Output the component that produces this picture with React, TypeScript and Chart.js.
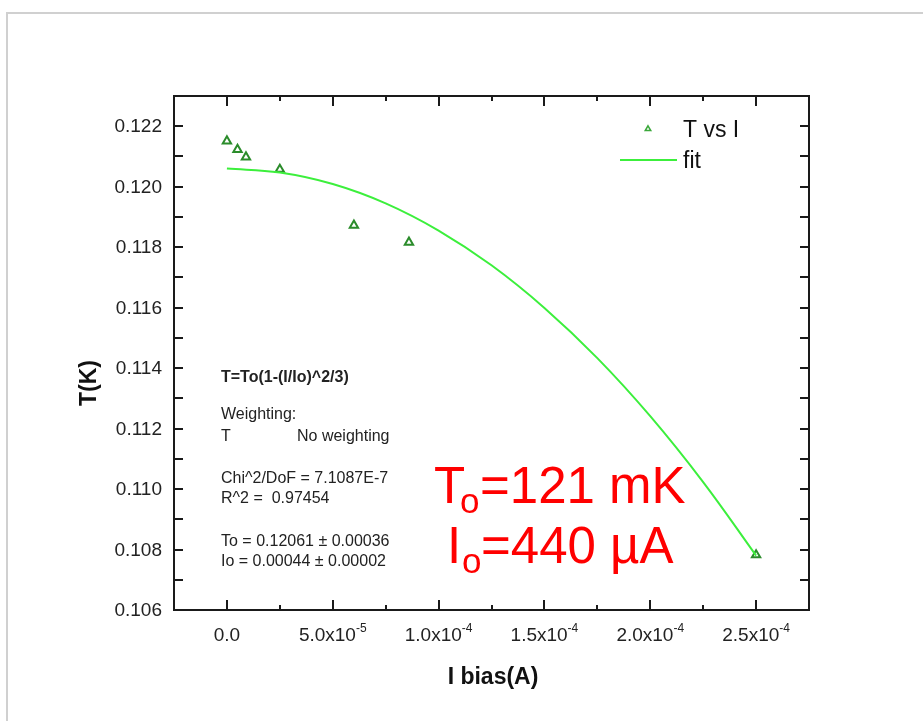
import React, { useEffect, useRef } from 'react';
import { Chart, registerables } from 'chart.js';

Chart.register(...registerables);

// Measured temperature vs bias current
const biasCurrentA = [0, 5e-6, 9e-6, 2.5e-5, 6e-5, 8.6e-5, 2.5e-4];
const temperatureK = [0.12151, 0.12123, 0.12098, 0.12057, 0.11872, 0.11816, 0.10782];

// Fitted curve T = To(1-(I/Io)^2/3), sampled along the current axis
const fitCurrentA = [0, 2.5e-5, 5e-5, 7.5e-5, 1e-4, 1.25e-4, 1.5e-4, 1.75e-4, 2e-4, 2.25e-4, 2.5e-4];
const fitTemperatureK = [0.1206, 0.12047, 0.12009, 0.11945, 0.11855, 0.1174, 0.11599, 0.11433, 0.11241, 0.11023, 0.1078];

// Axis ticks
const xMajorTicks = [0, 5e-5, 1e-4, 1.5e-4, 2e-4, 2.5e-4];
const xTickMantissas = ['0.0', '5.0x10', '1.0x10', '1.5x10', '2.0x10', '2.5x10'];
const xTickExponents = ['', '-5', '-4', '-4', '-4', '-4'];
const xMinorTicks = [2.5e-5, 7.5e-5, 1.25e-4, 1.75e-4, 2.25e-4];
const yMajorTicks = [0.106, 0.108, 0.11, 0.112, 0.114, 0.116, 0.118, 0.12, 0.122];
const yTickLabels = ['0.106', '0.108', '0.110', '0.112', '0.114', '0.116', '0.118', '0.120', '0.122'];
const yMinorTicks = [0.107, 0.109, 0.111, 0.113, 0.115, 0.117, 0.119, 0.121];

const fitInfoLines = [
  { text: 'T=To(1-(I/Io)^2/3)', bold: true, y: 382 },
  { text: 'Weighting:', bold: false, y: 419 },
  { text: 'Chi^2/DoF = 7.1087E-7', bold: false, y: 483 },
  { text: 'R^2 =  0.97454', bold: false, y: 503 },
  { text: 'To = 0.12061 \u00b1 0.00036', bold: false, y: 546 },
  { text: 'Io = 0.00044 \u00b1 0.00002', bold: false, y: 566 },
];

const FONT = '"Liberation Sans", Arial, sans-serif';
const MARKER_GREEN = '#2b8c2b';
const FIT_GREEN = '#3cef3c';

const decorations = {
  id: 'decorations',
  beforeDatasetsDraw(chart: any) {
    const ctx = chart.ctx as CanvasRenderingContext2D;
    ctx.save();
    // fit report
    ctx.fillStyle = '#222';
    ctx.textBaseline = 'alphabetic';
    ctx.textAlign = 'left';
    const tx = 221;
    for (const line of fitInfoLines) {
      ctx.font = `${line.bold ? 'bold ' : ''}16px ${FONT}`;
      ctx.fillText(line.text, tx, line.y);
    }
    ctx.font = `16px ${FONT}`;
    ctx.fillText('T', tx, 441);
    ctx.fillText('No weighting', 297, 441);

    // fitted parameters, large red
    ctx.fillStyle = '#ff0000';
    ctx.font = `51px ${FONT}`;
    ctx.fillText('T', 434, 503);
    ctx.fillText('=121 mK', 480, 503);
    ctx.fillText('I', 447, 563);
    ctx.fillText('=440 \u00b5A', 481, 563);
    ctx.font = `35px ${FONT}`;
    ctx.fillText('o', 460, 513);
    ctx.fillText('o', 462, 573);
    ctx.restore();
  },
  afterDraw(chart: any) {
    const ctx = chart.ctx as CanvasRenderingContext2D;
    const { left, right, top, bottom } = chart.chartArea;
    const xs = chart.scales.x;
    const ys = chart.scales.y;
    ctx.save();

    // outer page frame
    ctx.strokeStyle = '#d0d0d0';
    ctx.lineWidth = 2;
    ctx.beginPath();
    ctx.moveTo(7, 721);
    ctx.lineTo(7, 13);
    ctx.lineTo(923, 13);
    ctx.stroke();

    // plot frame
    ctx.strokeStyle = '#1a1a1a';
    ctx.lineWidth = 2;
    ctx.strokeRect(left, top, right - left, bottom - top);

    // inward ticks
    ctx.beginPath();
    const xTick = (v: number, len: number) => {
      const px = Math.round(xs.getPixelForValue(v));
      ctx.moveTo(px, bottom);
      ctx.lineTo(px, bottom - len);
      ctx.moveTo(px, top);
      ctx.lineTo(px, top + len);
    };
    const yTick = (v: number, len: number) => {
      const py = Math.round(ys.getPixelForValue(v));
      ctx.moveTo(left, py);
      ctx.lineTo(left + len, py);
      ctx.moveTo(right, py);
      ctx.lineTo(right - len, py);
    };
    xMajorTicks.forEach((v) => xTick(v, 10));
    xMinorTicks.forEach((v) => xTick(v, 5));
    yMajorTicks.forEach((v) => yTick(v, 9));
    yMinorTicks.forEach((v) => yTick(v, 9));
    ctx.stroke();

    // y tick labels
    ctx.fillStyle = '#222';
    ctx.font = `19px ${FONT}`;
    ctx.textAlign = 'right';
    ctx.textBaseline = 'middle';
    yMajorTicks.forEach((v, i) => {
      ctx.fillText(yTickLabels[i], left - 12, ys.getPixelForValue(v) + 1);
    });

    // x tick labels with superscript exponents
    ctx.textAlign = 'left';
    ctx.textBaseline = 'alphabetic';
    const baseY = 641;
    xMajorTicks.forEach((v, i) => {
      const px = xs.getPixelForValue(v);
      ctx.font = `19px ${FONT}`;
      const mw = ctx.measureText(xTickMantissas[i]).width;
      ctx.font = `12px ${FONT}`;
      const ew = xTickExponents[i] ? ctx.measureText(xTickExponents[i]).width : 0;
      const start = px - (mw + ew) / 2;
      ctx.font = `19px ${FONT}`;
      ctx.fillText(xTickMantissas[i], start, baseY);
      if (xTickExponents[i]) {
        ctx.font = `12px ${FONT}`;
        ctx.fillText(xTickExponents[i], start + mw, baseY - 9);
      }
    });

    // axis titles
    ctx.fillStyle = '#111';
    ctx.font = `bold 23px ${FONT}`;
    ctx.textAlign = 'center';
    ctx.fillText('I bias(A)', 493, 684);
    ctx.save();
    ctx.translate(96, 383);
    ctx.rotate(-Math.PI / 2);
    ctx.fillText('T(K)', 0, 0);
    ctx.restore();

    // legend
    ctx.textAlign = 'left';
    ctx.fillStyle = '#111';
    ctx.font = `23px ${FONT}`;
    ctx.fillText('T vs I', 683, 137);
    ctx.fillText('fit', 683, 168);
    ctx.strokeStyle = '#3aa83a';
    ctx.lineWidth = 1.5;
    const r = 3.2;
    const cx = 648;
    const cy = 129;
    ctx.beginPath();
    ctx.moveTo(cx, cy - r);
    ctx.lineTo(cx + r * Math.sin((2 * Math.PI) / 3), cy - r * Math.cos((2 * Math.PI) / 3));
    ctx.lineTo(cx + r * Math.sin((4 * Math.PI) / 3), cy - r * Math.cos((4 * Math.PI) / 3));
    ctx.closePath();
    ctx.stroke();
    ctx.strokeStyle = FIT_GREEN;
    ctx.lineWidth = 2;
    ctx.beginPath();
    ctx.moveTo(620, 160);
    ctx.lineTo(677, 160);
    ctx.stroke();

    ctx.restore();
  },
};

export default function App() {
  const canvasRef = useRef<HTMLCanvasElement | null>(null);

  useEffect(() => {
    const canvas = canvasRef.current;
    if (!canvas) return;
    const chart = new Chart(canvas, {
      type: 'scatter',
      data: {
        datasets: [
          {
            label: 'fit',
            data: fitCurrentA.map((x, i) => ({ x, y: fitTemperatureK[i] })),
            showLine: true,
            borderColor: FIT_GREEN,
            borderWidth: 2,
            pointRadius: 0,
            tension: 0.4,
            fill: false,
          },
          {
            label: 'T vs I',
            data: biasCurrentA.map((x, i) => ({ x, y: temperatureK[i] })),
            showLine: false,
            pointStyle: 'triangle',
            pointRadius: 4.8,
            pointBorderWidth: 2,
            borderColor: MARKER_GREEN,
            backgroundColor: 'rgba(255,255,255,0)',
          },
        ],
      },
      options: {
        responsive: false,
        animation: false,
        layout: { padding: { left: 174, top: 96, right: 114, bottom: 111 } },
        scales: {
          x: { type: 'linear', min: -2.5e-5, max: 2.75e-4, display: false },
          y: { type: 'linear', min: 0.106, max: 0.123, display: false },
        },
        plugins: {
          legend: { display: false },
          tooltip: { enabled: false },
        },
      },
      plugins: [decorations],
    } as any);
    return () => chart.destroy();
  }, []);

  return (
    <div style={{ position: 'absolute', left: 0, top: 0, width: 923, height: 721, background: '#fff' }}>
      <canvas ref={canvasRef} width={923} height={721} style={{ display: 'block' }} />
    </div>
  );
}
